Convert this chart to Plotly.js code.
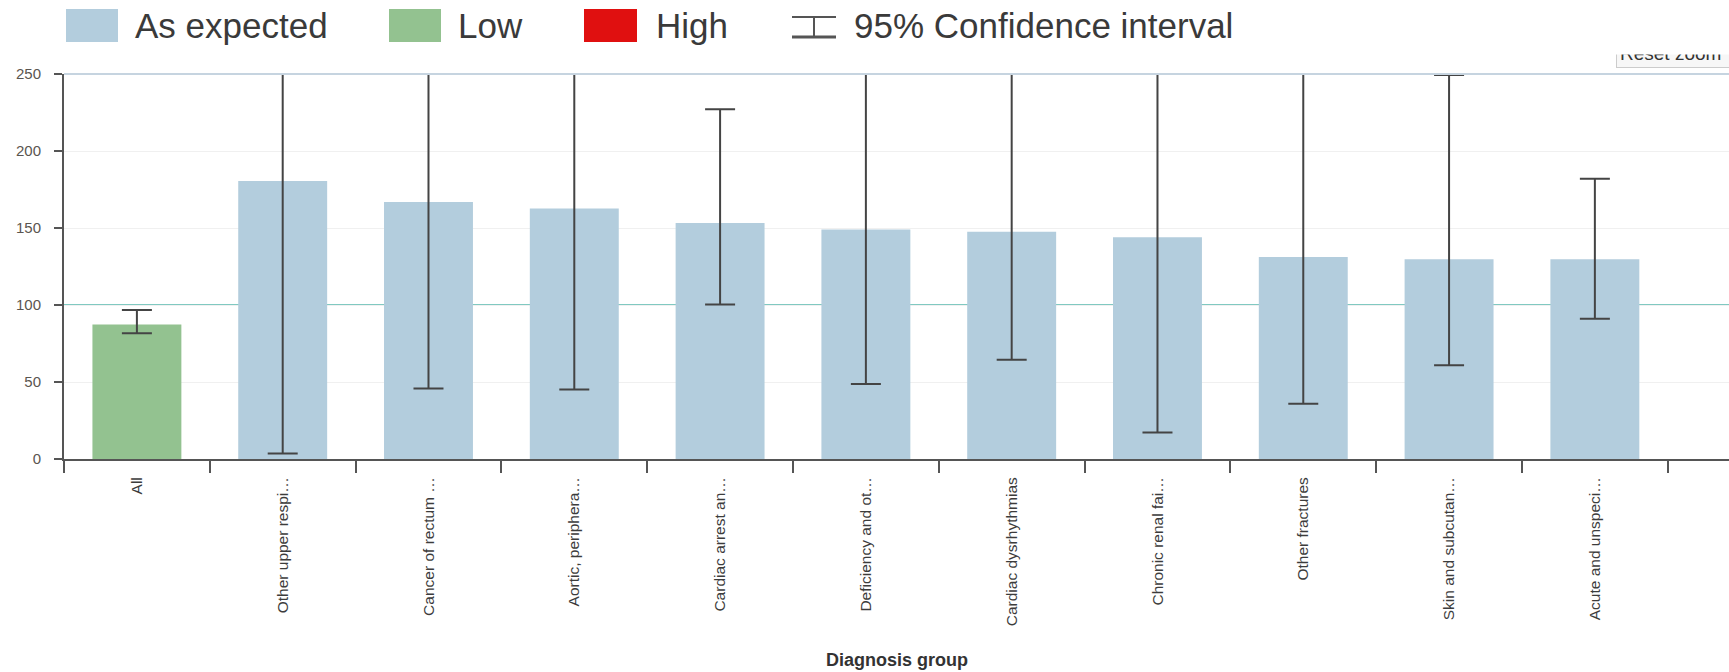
<!DOCTYPE html>
<html>
<head>
<meta charset="utf-8">
<script src="https://cdn.plot.ly/plotly-3.0.1.min.js"></script>
<style>
html,body{margin:0;padding:0;background:#fff;}
#chart{width:1729px;height:672px;}
</style>
</head>
<body>
<div id="chart"></div>
<script>
// ---- data ----
const categories = ["All", "Other upper respi\u2026", "Cancer of rectum \u2026", "Aortic, periphera\u2026",
  "Cardiac arrest an\u2026", "Deficiency and ot\u2026", "Cardiac dysrhythmias", "Chronic renal fai\u2026",
  "Other fractures", "Skin and subcutan\u2026", "Acute and unspeci\u2026"];
const values  = [87.4, 180.5, 166.9, 162.6, 153.3, 149.0, 147.6, 144.0, 131.1, 129.7, 129.7];
const ciLower = [81.7, 3.6, 45.8, 45.1, 100.3, 48.7, 64.5, 17.2, 35.8, 60.9, 91.0];
const ciUpper = [96.7, 300, 290, 300, 227.1, 280, 300, 320, 310, 249.3, 182.0];
const status  = ["Low", "As expected", "As expected", "As expected", "As expected", "As expected",
  "As expected", "As expected", "As expected", "As expected", "As expected"];
const legendLabels = ["As expected", "Low", "High", "95% Confidence interval"];
const expectedLine = [100];
const yTicks = [0, 50, 100, 150, 200, 250];

// ---- styles ----
const statusColors = {"As expected": "#b3cddd", "Low": "#93c290", "High": "#e01010"};
const FONT = '"Liberation Sans", Arial, sans-serif';
const W = 1729, H = 672;
const M = {l: 64, r: 0, t: 74, b: 213};
const PW = W - M.l - M.r, PH = H - M.t - M.b;
const px = x => (x - M.l) / PW;
const py = y => (H - M.b - y) / PH;

const trace = {
  type: 'bar',
  x: categories,
  y: values,
  width: 0.61,
  marker: {color: status.map(s => statusColors[s]), line: {width: 0}},
  error_y: {
    type: 'data', symmetric: false,
    array: ciUpper.map((u, i) => u - values[i]),
    arrayminus: ciLower.map((l, i) => values[i] - l),
    color: '#444', thickness: 2, width: 15
  },
  hoverinfo: 'x+y',
  showlegend: false
};

const shapes = [];
const annotations = [];

// reference line at 100 (behind bars)
expectedLine.forEach(v => shapes.push({
  type: 'line', xref: 'paper', yref: 'y', x0: 0, x1: 1, y0: v, y1: v,
  line: {color: '#80c9c1', width: 2}, layer: 'below'
}));
// top border line
shapes.push({type: 'line', xref: 'paper', yref: 'paper', x0: 0, x1: 1, y0: 1, y1: 1,
  line: {color: '#c6d4e0', width: 2}, layer: 'above'});

// custom legend
const swatches = [
  {x0: 66, x1: 118, color: statusColors["As expected"], tx: 133, label: legendLabels[0]},
  {x0: 389, x1: 441, color: statusColors["Low"], tx: 456, label: legendLabels[1]},
  {x0: 584, x1: 637, color: statusColors["High"], tx: 654, label: legendLabels[2]}
];
swatches.forEach(s => {
  shapes.push({type: 'rect', xref: 'paper', yref: 'paper', x0: px(s.x0), x1: px(s.x1),
    y0: py(42), y1: py(9), fillcolor: s.color, line: {width: 0}});
  annotations.push({xref: 'paper', yref: 'paper', x: px(s.tx), y: py(26), xanchor: 'left', yanchor: 'middle',
    text: s.label, showarrow: false, font: {family: FONT, size: 35, color: '#3a3a3a'}});
});
// CI symbol
shapes.push({type: 'line', xref: 'paper', yref: 'paper', x0: px(792), x1: px(836), y0: py(17), y1: py(17),
  line: {color: '#555', width: 2}});
shapes.push({type: 'line', xref: 'paper', yref: 'paper', x0: px(792), x1: px(836), y0: py(37), y1: py(37),
  line: {color: '#555', width: 3}});
shapes.push({type: 'line', xref: 'paper', yref: 'paper', x0: px(814), x1: px(814), y0: py(17), y1: py(37),
  line: {color: '#555', width: 2}});
annotations.push({xref: 'paper', yref: 'paper', x: px(852), y: py(26), xanchor: 'left', yanchor: 'middle',
  text: legendLabels[3], showarrow: false, font: {family: FONT, size: 35, color: '#3a3a3a'}});

// x axis title
annotations.push({xref: 'paper', yref: 'paper', x: 0.5, y: py(660), xanchor: 'center', yanchor: 'middle',
  text: '<b>Diagnosis group</b>', showarrow: false, font: {family: FONT, size: 18, color: '#333'}});

// Reset zoom button (partially clipped, as in the reference)
annotations.push({xref: 'paper', yref: 'paper', x: px(1616), y: py(68), xanchor: 'left', yanchor: 'bottom',
  text: 'Reset zoom&nbsp;&nbsp;&nbsp;', showarrow: false, font: {family: FONT, size: 19, color: '#333'},
  bgcolor: '#f7f7f7', bordercolor: '#cccccc', borderwidth: 1, borderpad: 3});
annotations.push({xref: 'paper', yref: 'paper', x: px(1605), y: py(55), xanchor: 'left', yanchor: 'bottom',
  text: ' ', showarrow: false, width: 140, height: 40, bgcolor: '#ffffff', borderpad: 0});

const layout = {
  width: W, height: H,
  margin: M,
  paper_bgcolor: '#fff', plot_bgcolor: '#fff',
  font: {family: FONT},
  bargap: 0.39,
  xaxis: {
    type: 'category',
    range: [-0.5, 10.92],
    showline: true, linecolor: '#555', linewidth: 2,
    ticks: 'outside', tickson: 'boundaries', ticklen: 12, tickwidth: 2, tickcolor: '#555',
    ticklabelstandoff: 10,
    tickangle: -90,
    tickfont: {family: FONT, size: 15.5, color: '#3c3c3c'},
    showgrid: false, zeroline: false, fixedrange: true
  },
  yaxis: {
    range: [0, 250],
    tickvals: yTicks,
    showline: true, linecolor: '#555', linewidth: 2,
    ticks: 'outside', ticklen: 8, tickwidth: 2, tickcolor: '#555',
    ticklabelstandoff: 10,
    tickfont: {family: FONT, size: 15, color: '#5a5550'},
    gridcolor: '#f0f0f0', gridwidth: 1,
    zeroline: false, fixedrange: true
  },
  shapes: shapes,
  annotations: annotations,
  showlegend: false
};

Plotly.newPlot('chart', [trace], layout, {displayModeBar: false, responsive: false});
</script>
</body>
</html>
